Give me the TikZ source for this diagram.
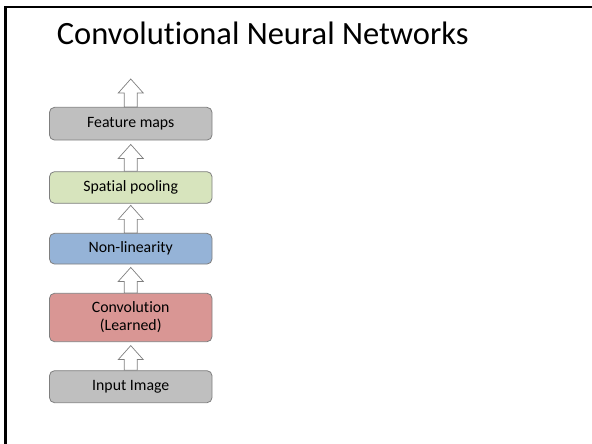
\documentclass[tikz,border=0pt]{standalone}
\usepackage{fontspec}
\setmainfont{Carlito}[Ligatures={NoCommon,NoRequired,NoContextual}]
\usetikzlibrary{calc}
\definecolor{boxgray}{HTML}{BFBFBF}
\definecolor{boxgreen}{HTML}{D7E4BD}
\definecolor{boxblue}{HTML}{95B3D7}
\definecolor{boxred}{HTML}{D99694}
\definecolor{edgegray}{HTML}{7F7F7F}
\tikzset{
  layerbox/.style={draw=edgegray, line width=0.8pt, rounded corners=5pt,
    minimum width=162.5pt, inner sep=0pt, align=center,
    font=\fontsize{15.8}{17.8}\selectfont},
  flowarrow/.style={draw=edgegray, fill=white, line width=0.7pt, line join=miter},
}
% hollow block arrow from the top of node #1 up to (#2)
\newcommand{\blockup}[2]{%
  \path[flowarrow] let \p1=(#1.north), \p2=(#2) in
    (\x1-6.5pt,\y1) -- (\x1-6.5pt,\y2-14pt) -- (\x1-12.5pt,\y2-14pt) --
    (\x1,\y2) -- (\x1+12.5pt,\y2-14pt) -- (\x1+6.5pt,\y2-14pt) --
    (\x1+6.5pt,\y1) -- cycle;}
\begin{document}
\begin{tikzpicture}[x=1pt,y=1pt]
  \useasboundingbox (0,0) rectangle (592,444);
  % slide frame
  \draw[line width=2.5pt] (5.3,0) -- (5.3,437) -- (592,437);
  \node[anchor=base west, inner sep=0pt, font=\fontsize{32.5}{38}\selectfont]
    (title) at (56.7,399.7) {Convolutional Neural Networks};

  \node[layerbox, fill=boxgray,  minimum height=32pt] (input) at (130.75,57.3)  {Input Image};
  \node[layerbox, fill=boxred,   minimum height=48.4pt] (conv) at (130.75,126.5) {Convolution\\(Learned)};
  \node[layerbox, fill=boxblue,  minimum height=30.7pt] (relu) at (130.75,195.3) {Non-linearity};
  \node[layerbox, fill=boxgreen, minimum height=31.6pt] (pool) at (130.75,256.5) {Spatial pooling};
  \node[layerbox, fill=boxgray,  minimum height=32.7pt] (feat) at (130.75,320.3) {Feature maps};
  \coordinate (out) at (130.75,365);

  \blockup{input}{$(conv.south)+(0,-3.5pt)$}
  \blockup{conv}{$(relu.south)+(0,-3pt)$}
  \blockup{relu}{$(pool.south)+(0,-1.7pt)$}
  \blockup{pool}{$(feat.south)+(0,-4pt)$}
  \blockup{feat}{out}
\end{tikzpicture}
\end{document}
